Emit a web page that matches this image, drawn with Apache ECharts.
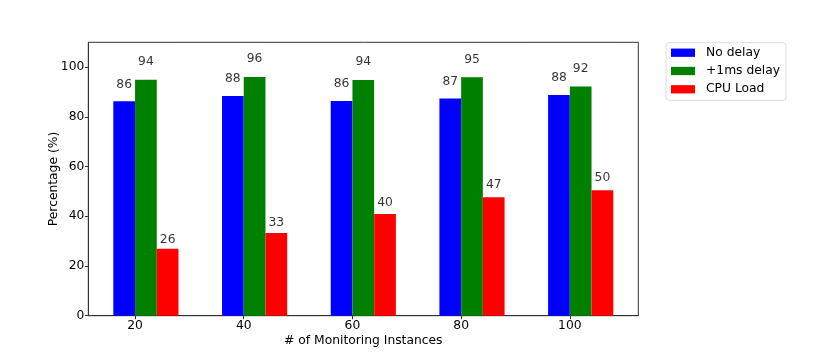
<!DOCTYPE html>
<html>
<head>
<meta charset="utf-8">
<script src="https://cdn.jsdelivr.net/npm/echarts@6/dist/echarts.min.js"></script>
<style>html,body{margin:0;padding:0;background:#fff;}#c{width:831px;height:361px;}</style>
</head>
<body>
<div id="c"></div>
<script>
const categories = [20, 40, 60, 80, 100];
const noDelay = [86.3, 88.4, 86.4, 87.4, 88.8];
const oneMsDelay = [94.9, 96.0, 94.8, 95.9, 92.2];
const cpuLoad = [26.9, 33.3, 40.9, 47.7, 50.5];
const yTicks = [0, 20, 40, 60, 80, 100];

const font = 'DejaVu Sans';
const seriesDefs = [
  { name: 'No delay', data: noDelay, color: '#0000ff', offset: -2 },
  { name: '+1ms delay', data: oneMsDelay, color: '#008000', offset: 2 },
  { name: 'CPU Load', data: cpuLoad, color: '#ff0000', offset: 6 }
];

const series = [];
seriesDefs.forEach(s => {
  series.push({
    name: s.name, type: 'bar', barWidth: 21.7, barGap: '-100%',
    itemStyle: { color: s.color },
    data: categories.map((c, i) => [c + s.offset, s.data[i]]),
    silent: true
  });
});
seriesDefs.forEach(s => {
  series.push({
    name: s.name + '_lbl', type: 'scatter', symbolSize: 0, silent: true,
    data: categories.map((c, i) => [c + s.offset, s.data[i] * 1.05, s.data[i]]),
    label: {
      show: true, position: 'top', distance: 0,
      formatter: p => String(Math.floor(p.value[2])),
      fontFamily: font, fontSize: 12.3, color: '#000'
    }
  });
});

const chart = echarts.init(document.getElementById('c'), null, { renderer: 'canvas' });
chart.setOption({
  animation: false,
  backgroundColor: '#fff',
  textStyle: { fontFamily: font },
  grid: { left: 88.3, top: 42.3, right: 192.7, bottom: 45.3, show: true, borderColor: '#333', borderWidth: 1, backgroundColor: 'transparent' },
  legend: {
    data: seriesDefs.map(s => s.name),
    orient: 'vertical', left: 666, top: 42.7,
    itemWidth: 24, itemHeight: 8.3, itemGap: 4.3,
    icon: 'rect',
    padding: [3, 6, 4, 5],
    borderColor: '#ddd', borderWidth: 1, borderRadius: 3,
    textStyle: { fontFamily: font, fontSize: 12.3, color: '#000', lineHeight: 14, padding: [0, 0, 0, 6] }
  },
  xAxis: {
    type: 'value', min: 11.4, max: 112.6,
    name: '# of Monitoring Instances', nameLocation: 'middle', nameGap: 19, nameMoveOverlap: false,
    nameTextStyle: { fontFamily: font, fontSize: 12.3, color: '#000' },
    axisLine: { show: true, lineStyle: { color: '#333', width: 1 } },
    axisTick: { show: true, length: 3.5, customValues: categories, lineStyle: { color: '#333' } },
    axisLabel: { customValues: categories, fontFamily: font, fontSize: 12.3, color: '#000', margin: 4 },
    splitLine: { show: false }
  },
  yAxis: {
    type: 'value', min: 0, max: 110,
    name: 'Percentage (%)', nameLocation: 'middle', nameGap: 28, nameMoveOverlap: false,
    nameTextStyle: { fontFamily: font, fontSize: 12.3, color: '#000' },
    axisLine: { show: true, lineStyle: { color: '#333', width: 1 } },
    axisTick: { show: true, length: 3.5, customValues: yTicks, lineStyle: { color: '#333' } },
    axisLabel: { customValues: yTicks, fontFamily: font, fontSize: 12.3, color: '#000', margin: 4 },
    splitLine: { show: false }
  },
  series: series
});
</script>
</body>
</html>
